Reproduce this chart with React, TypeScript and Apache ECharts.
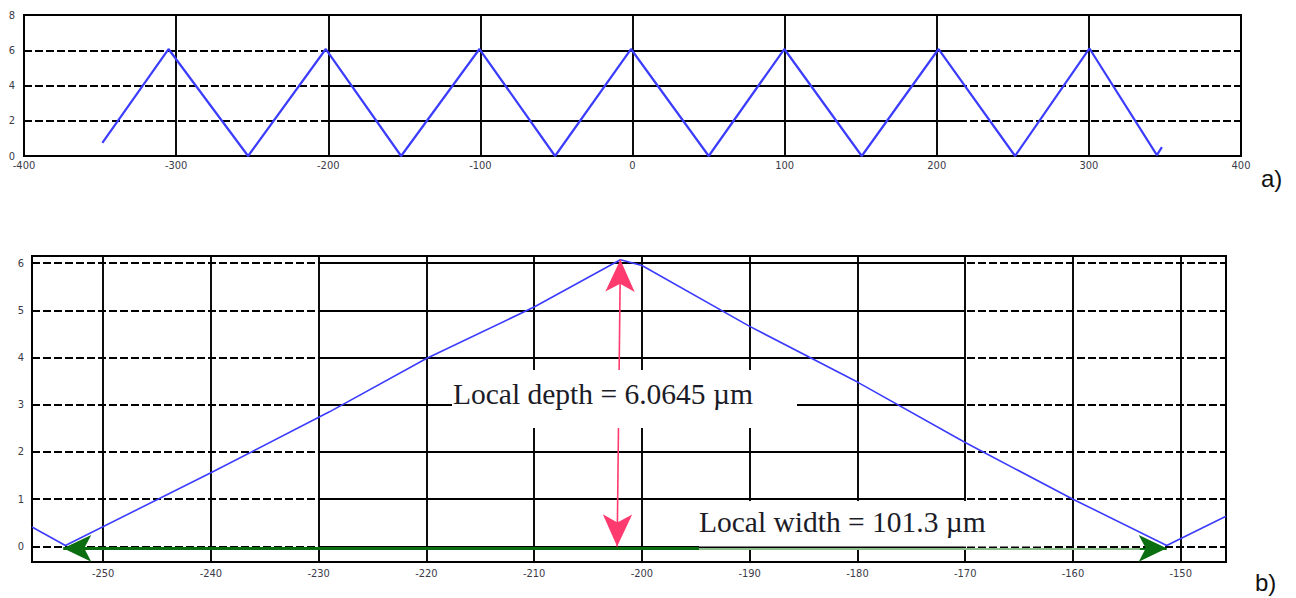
import { useEffect, useRef } from 'react';
import * as echarts from 'echarts';

// ---- panel a) ----
const topX = [-348.5, -305, -252.7, -201.6, -152.1, -100.6, -50.9, -1, 50.1, 99.8, 150.7, 201.2, 251.5, 300.4, 344.7, 348];
const topY = [0.74, 6.07, 0, 6.07, 0, 6.07, 0, 6.07, 0, 6.07, 0, 6.07, 0, 6.1, 0.05, 0.5];
const topGridY = [2, 4, 6];
const topSolidFrom = -200;
const topSolidTo = 217;

// ---- panel b) ----
const botX = [-256.6, -253.5, -240, -229, -220, -210, -202, -200, -190, -180, -170, -160, -151.3, -145.8];
const botY = [0.41, 0.02, 1.56, 2.85, 3.98, 5.07, 6.07, 5.95, 4.66, 3.48, 2.2, 1.0, 0.02, 0.64];
const botXTicks = [-250, -240, -230, -220, -210, -200, -190, -180, -170, -160, -150];
const botYTicks = [0, 1, 2, 3, 4, 5, 6];
const botSolidFrom = -229.5;
const botSolidTo = -170.2;

// annotations (data coordinates)
const depthArrow = { xBottom: -202.3, xTop: -202.0, yBottom: 0, yTop: 6.07 };
const widthArrow = { xLeft: -253.7, xFade: -194.7, xDark: -153.8, xRight: -151.3, y: -0.04 };

const BLACK = '#000';
const LABEL = '#3a3a48';
const GRID_W = 1.9;
const labelFont = '"DejaVu Sans Condensed", "Liberation Sans Narrow", "Liberation Sans", sans-serif';
const serif = '"Liberation Serif", "Times New Roman", serif';

export default function App() {
  const ref = useRef<HTMLDivElement>(null);
  useEffect(() => {
    document.body.style.margin = '0';
    if (!ref.current) return;
    const chart = echarts.init(ref.current, undefined, { renderer: 'svg' });

    const topLine = topX.map((x, i) => [x, topY[i]]);
    const botLine = botX.map((x, i) => [x, botY[i]]);

    const solidSegs = (ys: number[], a: number, b: number) =>
      ys.map((y) => [{ coord: [a, y] }, { coord: [b, y] }]);

    const option: any = {
      animation: false,
      backgroundColor: '#fff',
      grid: [
        { left: 24, top: 15, width: 1217, height: 141, show: true, borderColor: BLACK, borderWidth: 2, backgroundColor: 'transparent' },
        { left: 32, top: 256, width: 1194, height: 306, show: true, borderColor: BLACK, borderWidth: 2, backgroundColor: 'transparent' },
      ],
      xAxis: [
        {
          type: 'value', gridIndex: 0, min: -400, max: 400, interval: 100,
          axisLine: { show: false }, axisTick: { show: false },
          axisLabel: { color: LABEL, fontSize: 11, fontFamily: labelFont, margin: 4 },
          splitLine: { show: true, lineStyle: { color: BLACK, width: GRID_W, type: 'solid' } },
        },
        {
          type: 'value', gridIndex: 1, min: -256.6, max: -145.8,
          axisLine: { show: false },
          axisTick: { show: false, customValues: botXTicks },
          axisLabel: { color: LABEL, fontSize: 11, fontFamily: labelFont, margin: 6, customValues: botXTicks },
          splitLine: { show: true, lineStyle: { color: BLACK, width: GRID_W, type: 'solid' } },
        },
      ],
      yAxis: [
        {
          type: 'value', gridIndex: 0, min: 0, max: 8, interval: 2,
          axisLine: { show: false }, axisTick: { show: false },
          axisLabel: { color: LABEL, fontSize: 11, fontFamily: labelFont, margin: 9, padding: [0, 0, 7, 0] },
          splitLine: { show: true, lineStyle: { color: BLACK, width: GRID_W, type: [8, 3] } },
        },
        {
          type: 'value', gridIndex: 1, min: -0.33, max: 6.15,
          axisLine: { show: false },
          axisTick: { show: false, customValues: botYTicks },
          axisLabel: { color: LABEL, fontSize: 11, fontFamily: labelFont, margin: 8, customValues: botYTicks },
          splitLine: { show: true, lineStyle: { color: BLACK, width: GRID_W, type: [8, 3] } },
        },
      ],
      graphic: {
        z: 6,
        elements: [
          { type: 'rect', z: 6, shape: { x: 452, y: 370, width: 345, height: 58 }, style: { fill: '#fff' } },
          { type: 'text', z: 7, x: 453, y: 394, style: { text: 'Local depth = 6.0645 µm', fontSize: 29.5, fontFamily: serif, fill: '#1c1c28', verticalAlign: 'middle' } },
          { type: 'rect', z: 6, shape: { x: 699, y: 501, width: 344, height: 45.5 }, style: { fill: '#fff' } },
          { type: 'text', z: 7, x: 699, y: 522, style: { text: 'Local width = 101.3 µm', fontSize: 29.5, fontFamily: serif, fill: '#1c1c28', verticalAlign: 'middle' } },
          { type: 'text', z: 7, x: 1261, y: 178, style: { text: 'a)', fontSize: 24, fontFamily: '"Liberation Sans", Arial, sans-serif', fill: '#111', verticalAlign: 'middle' } },
          { type: 'text', z: 7, x: 1255, y: 582, style: { text: 'b)', fontSize: 24, fontFamily: '"Liberation Sans", Arial, sans-serif', fill: '#111', verticalAlign: 'middle' } },
        ],
      },
      series: [
        // solid middle grid segments, panel a
        {
          type: 'line', xAxisIndex: 0, yAxisIndex: 0, data: [], z: 1, silent: true,
          markLine: { z: 1, silent: true, symbol: ['none', 'none'], label: { show: false }, lineStyle: { color: BLACK, width: GRID_W, type: 'solid' }, data: solidSegs(topGridY, topSolidFrom, topSolidTo) },
        },
        {
          type: 'line', xAxisIndex: 0, yAxisIndex: 0, data: topLine, z: 2, showSymbol: false, symbol: 'none',
          lineStyle: { color: '#3c3cff', width: 2.2 },
        },
        // solid middle grid segments, panel b
        {
          type: 'line', xAxisIndex: 1, yAxisIndex: 1, data: [], z: 1, silent: true,
          markLine: { z: 1, silent: true, symbol: ['none', 'none'], label: { show: false }, lineStyle: { color: BLACK, width: GRID_W, type: 'solid' }, data: solidSegs(botYTicks, botSolidFrom, botSolidTo) },
        },
        {
          type: 'line', xAxisIndex: 1, yAxisIndex: 1, data: botLine, z: 2, showSymbol: false, symbol: 'none',
          lineStyle: { color: '#3c3cff', width: 1.6 },
        },
        // red depth arrow
        {
          type: 'line', xAxisIndex: 1, yAxisIndex: 1, data: [], z: 3, silent: true,
          markLine: {
            z: 3, silent: true, symbol: ['arrow', 'arrow'], symbolSize: [22, 32], label: { show: false },
            lineStyle: { color: '#ff3a6e', width: 1.6, type: 'solid' },
            data: [[{ coord: [depthArrow.xBottom, depthArrow.yBottom] }, { coord: [depthArrow.xTop, depthArrow.yTop] }]],
          },
        },
        // green width arrow
        {
          type: 'line', xAxisIndex: 1, yAxisIndex: 1, data: [], z: 10, silent: true,
          markLine: {
            z: 10, silent: true, label: { show: false }, symbolSize: [20, 28],
            data: [
              [{ coord: [widthArrow.xFade, widthArrow.y], symbol: 'none' }, { coord: [widthArrow.xLeft, widthArrow.y], symbol: 'arrow', lineStyle: { color: '#0b6e10', width: 3, type: 'solid' } }],
              [{ coord: [widthArrow.xFade, widthArrow.y], symbol: 'none' }, { coord: [widthArrow.xDark, widthArrow.y], symbol: 'none', lineStyle: { color: '#8dbf8d', width: 2.2, type: 'solid' } }],
              [{ coord: [widthArrow.xDark, widthArrow.y], symbol: 'none' }, { coord: [widthArrow.xRight, widthArrow.y], symbol: 'arrow', lineStyle: { color: '#0b6e10', width: 2, type: 'solid' } }],
            ],
          },
        },
      ],
    };
    chart.setOption(option);
    return () => chart.dispose();
  }, []);
  return <div ref={ref} style={{ width: 1296, height: 598 }} />;
}
